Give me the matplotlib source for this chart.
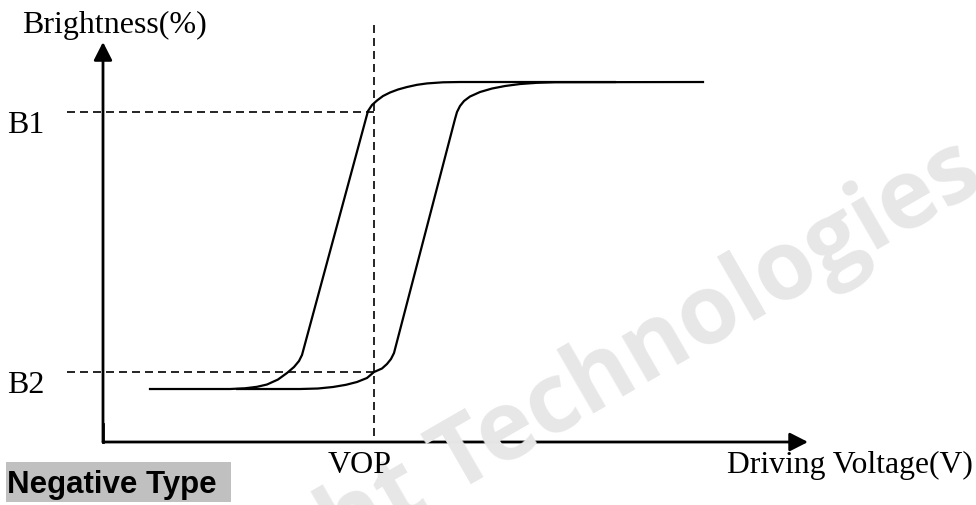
import matplotlib
matplotlib.use("Agg")
import matplotlib.pyplot as plt
from matplotlib.patches import Rectangle

# ---- data (arbitrary schematic units: voltage, brightness %) ----
rise_v = [0.47, 1.27, 1.42, 1.54, 1.64, 1.75, 1.84, 1.91, 1.96, 1.99,
          2.65, 2.69, 2.74, 2.80, 2.87, 2.95, 3.04, 3.14, 3.24, 3.40, 3.57, 5.12]
rise_b = [14.72, 14.72, 14.92, 15.33, 15.97, 17.36, 19.17, 20.83, 22.50, 24.17,
          91.94, 93.61, 94.86, 96.11, 97.08, 97.92, 98.61, 99.22, 99.61, 99.92, 100.0, 100.0]

fall_v = [1.34, 1.97, 2.15, 2.30, 2.43, 2.54, 2.64, 2.71, 2.79, 2.84, 2.88, 2.91,
          3.52, 3.54, 3.57, 3.61, 3.67, 3.77, 3.89, 4.02, 4.17, 4.34, 4.52, 6.00]
fall_b = [14.72, 14.72, 14.86, 15.28, 15.89, 16.67, 17.78, 19.44, 20.42, 21.67, 23.06, 24.72,
          89.72, 91.67, 93.33, 94.72, 95.97, 97.22, 98.19, 98.89, 99.44, 99.78, 99.94, 100.0]

B1 = 91.8
B2 = 19.4
VOP = 2.71

ref_lines_start = -0.36
vop_span = [1.7, 117.0]
axis_x_end = 7.05
axis_y_end = 111.1

labels = {"ylabel": "Brightness(%)", "xlabel": "Driving Voltage(V)",
          "b1": "B1", "b2": "B2", "vop": "VOP", "type": "Negative Type",
          "wm": "ht Technologies"}

W, H = 976, 506
fig = plt.figure(figsize=(W / 100, H / 100), dpi=100)
ax = fig.add_axes([0, 0, 1, 1])
ax.set_xlim(-1.03, 8.73)
ax.set_ylim(-17.5, 123.06)
ax.axis("off")

def fx(px):
    return px / W

def fy(py):
    return 1 - py / H

# watermark
fig.text(fx(987), fy(186), labels["wm"], family="Open Sans", weight="bold",
         fontsize=69, color="#e7e7e7", rotation=30, rotation_mode="anchor",
         ha="right", va="baseline", zorder=0)

# axes with arrows
arrow_style = "-|>,head_length=0.55,head_width=0.28"
ax.annotate("", xy=(0, axis_y_end), xytext=(0, 0),
            arrowprops=dict(arrowstyle=arrow_style, lw=2, color="black",
                            mutation_scale=20, shrinkA=0, shrinkB=0))
ax.annotate("", xy=(axis_x_end, 0), xytext=(0, 0),
            arrowprops=dict(arrowstyle=arrow_style, lw=2, color="black",
                            mutation_scale=20, shrinkA=0, shrinkB=0))
ax.plot([0, 0], [0, 5], color="black", lw=2, solid_capstyle="projecting")

# dashed reference lines
dash = (0, (4.8, 3))
ax.plot([ref_lines_start, VOP], [B1, B1], color="black", lw=1.2, linestyle=dash)
ax.plot([ref_lines_start, VOP], [B2, B2], color="black", lw=1.2, linestyle=dash)
ax.plot([VOP, VOP], vop_span, color="black", lw=1.2, linestyle=dash)

# curves
ax.plot(rise_v, rise_b, color="black", lw=1.6, solid_joinstyle="round")
ax.plot(fall_v, fall_b, color="black", lw=1.6, solid_joinstyle="round")

serif = "Liberation Serif"
fs = 23
fig.text(fx(22), fy(33), labels["ylabel"], family=serif, fontsize=fs, va="baseline", ha="left")
fig.text(fx(7), fy(133), labels["b1"], family=serif, fontsize=fs, va="baseline", ha="left")
fig.text(fx(7), fy(393), labels["b2"], family=serif, fontsize=fs, va="baseline", ha="left")
fig.text(fx(328), fy(473), labels["vop"], family=serif, fontsize=fs, va="baseline", ha="left")
fig.text(fx(727), fy(473), labels["xlabel"], family=serif, fontsize=22.8, va="baseline", ha="left")

fig.patches.append(Rectangle((fx(6), fy(503)), fx(231) - fx(6), fy(463) - fy(503),
                             transform=fig.transFigure, facecolor="#c0c0c0",
                             edgecolor="none", zorder=1))
fig.text(fx(7), fy(493), labels["type"], family="Liberation Sans", weight="bold",
         fontsize=22.5, va="baseline", ha="left", zorder=2)

fig.savefig("out.png", dpi=100, facecolor="white")
